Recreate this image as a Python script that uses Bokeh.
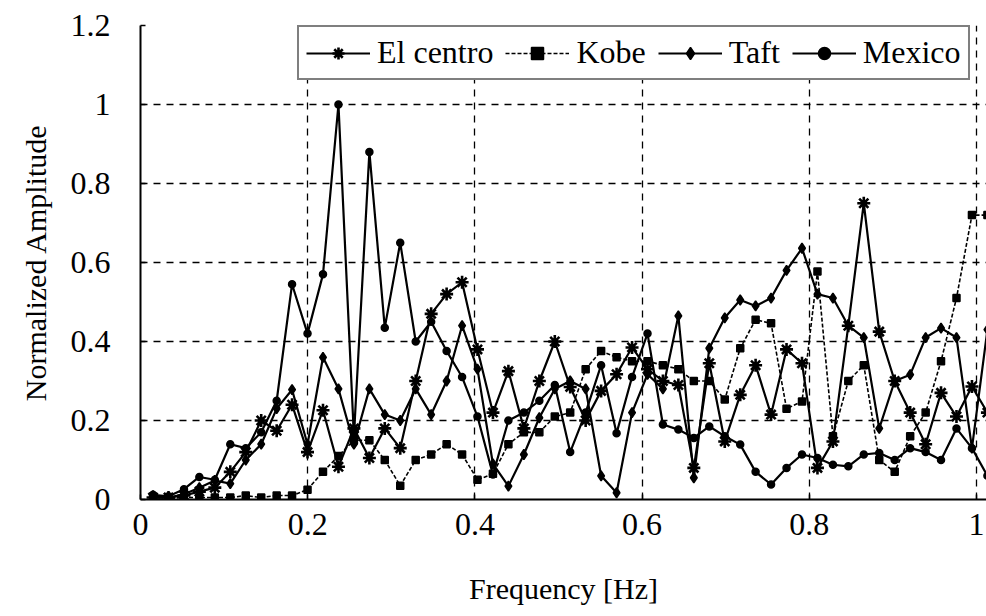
from bokeh.plotting import figure
from bokeh.models import FixedTicker, Legend
from bokeh.embed import file_html
from bokeh.resources import INLINE

# ---- data ----
freq = [0.0150, 0.0335, 0.0520, 0.0704, 0.0889, 0.1074, 0.1259, 0.1444, 0.1629, 0.1813,
        0.1998, 0.2183, 0.2368, 0.2553, 0.2738, 0.2922, 0.3107, 0.3292, 0.3477, 0.3662,
        0.3847, 0.4031, 0.4216, 0.4401, 0.4586, 0.4771, 0.4956, 0.5140, 0.5325, 0.5510,
        0.5695, 0.5880, 0.6065, 0.6249, 0.6434, 0.6619, 0.6804, 0.6989, 0.7174, 0.7358,
        0.7543, 0.7728, 0.7913, 0.8098, 0.8283, 0.8467, 0.8652, 0.8837, 0.9022, 0.9207,
        0.9392, 0.9576, 0.9761, 0.9946, 1.0131]

el_centro = [0.005, 0.005, 0.01, 0.02, 0.03, 0.07, 0.12, 0.20, 0.174, 0.24,
             0.12, 0.226, 0.083, 0.18, 0.105, 0.18, 0.13, 0.30, 0.47, 0.52,
             0.55, 0.38, 0.22, 0.325, 0.18, 0.30, 0.40, 0.285, 0.20, 0.275,
             0.317, 0.385, 0.33, 0.30, 0.29, 0.08, 0.345, 0.147, 0.265, 0.34,
             0.215, 0.38, 0.345, 0.08, 0.147, 0.44, 0.75, 0.425, 0.30, 0.22,
             0.14, 0.27, 0.21, 0.286, 0.22]

kobe = [0.005, 0.003, 0.005, 0.005, 0.005, 0.005, 0.01, 0.005, 0.01, 0.01,
        0.025, 0.07, 0.11, 0.15, 0.15, 0.10, 0.035, 0.10, 0.114, 0.14,
        0.114, 0.05, 0.065, 0.14, 0.17, 0.17, 0.21, 0.22, 0.33, 0.376,
        0.36, 0.35, 0.35, 0.34, 0.33, 0.30, 0.30, 0.253, 0.383, 0.455,
        0.446, 0.23, 0.248, 0.577, 0.16, 0.30, 0.34, 0.10, 0.07, 0.16,
        0.22, 0.35, 0.51, 0.72, 0.72]

taft = [0.01, 0.005, 0.013, 0.03, 0.048, 0.04, 0.10, 0.14, 0.23, 0.278,
        0.14, 0.36, 0.28, 0.14, 0.28, 0.215, 0.20, 0.28, 0.215, 0.30,
        0.44, 0.33, 0.09, 0.034, 0.114, 0.207, 0.28, 0.30, 0.28, 0.06,
        0.017, 0.22, 0.317, 0.28, 0.465, 0.055, 0.383, 0.46, 0.505, 0.49,
        0.51, 0.58, 0.636, 0.52, 0.51, 0.44, 0.41, 0.18, 0.30, 0.316,
        0.41, 0.434, 0.41, 0.13, 0.43]

mexico = [0.012, 0.008, 0.026, 0.057, 0.05, 0.14, 0.13, 0.17, 0.25, 0.545,
          0.42, 0.57, 1.0, 0.16, 0.88, 0.435, 0.65, 0.40, 0.45, 0.376,
          0.31, 0.21, 0.063, 0.20, 0.22, 0.25, 0.29, 0.12, 0.22, 0.34,
          0.168, 0.31, 0.42, 0.19, 0.177, 0.156, 0.185, 0.16, 0.139, 0.07,
          0.038, 0.08, 0.114, 0.105, 0.088, 0.084, 0.114, 0.118, 0.10, 0.13,
          0.12, 0.10, 0.18, 0.13, 0.06]

series_names = ["El centro", "Kobe", "Taft", "Mexico"]
x_ticks = [0, 0.2, 0.4, 0.6, 0.8, 1.0]
x_tick_labels = ["0", "0.2", "0.4", "0.6", "0.8", "1"]
y_ticks = [0, 0.2, 0.4, 0.6, 0.8, 1.0, 1.2]
y_tick_labels = ["0", "0.2", "0.4", "0.6", "0.8", "1", "1.2"]

FONT = "Liberation Serif"

p = figure(width=986, height=612, output_backend="svg", toolbar_location=None,
           x_range=(0, 1.012), y_range=(0, 1.2),
           min_border_left=140, min_border_right=0, min_border_top=25,
           min_border_bottom=113)
p.outline_line_color = None
p.background_fill_color = "white"

styles = [
    dict(y=el_centro, marker="asterisk", size=13, dash="solid", lw=2.2, mlw=2.6),
    dict(y=kobe, marker="square", size=7, dash="4 2", lw=1.6, mlw=1.5),
    dict(y=taft, marker="diamond", size=10, dash="solid", lw=2.2, mlw=1.5),
    dict(y=mexico, marker="circle", size=7, dash="solid", lw=2.2, mlw=1.5),
]

items = []
for name, st in zip(series_names, styles):
    r1 = p.line(freq, st["y"], line_color="black", line_width=st["lw"], line_dash=st["dash"])
    r2 = p.scatter(freq, st["y"], marker=st["marker"], size=st["size"],
                   line_color="black", fill_color="black", line_width=st["mlw"])
    items.append((name, [r1, r2]))

legend = Legend(items=items, orientation="horizontal", location=(157, 419))
legend.label_text_font = FONT
legend.label_text_font_size = "32px"
legend.label_text_color = "black"
legend.glyph_width = 64
legend.glyph_height = 30
legend.label_standoff = 7
legend.spacing = 12
legend.padding = 7
legend.margin = 0
legend.border_line_color = "black"
legend.border_line_width = 2
legend.background_fill_color = "white"
legend.background_fill_alpha = 1.0
p.add_layout(legend, "center")

# axes
for ax in (p.xaxis[0], p.yaxis[0]):
    ax.axis_line_color = "black"
    ax.axis_line_width = 2
    ax.major_tick_in = 5
    ax.major_tick_out = 0
    ax.major_tick_line_width = 1.5
    ax.minor_tick_line_color = None
    ax.major_label_text_font = FONT
    ax.major_label_text_font_size = "32px"
    ax.major_label_text_color = "black"
    ax.axis_label_text_font = FONT
    ax.axis_label_text_font_size = "30px"
    ax.axis_label_text_font_style = "normal"
    ax.axis_label_text_color = "black"

p.xaxis.ticker = FixedTicker(ticks=x_ticks)
p.yaxis.ticker = FixedTicker(ticks=y_ticks)
p.xaxis.major_label_overrides = dict(zip(x_ticks, x_tick_labels))
p.yaxis.major_label_overrides = dict(zip(y_ticks, y_tick_labels))
p.xaxis.axis_label = "Frequency [Hz]"
p.yaxis.axis_label = "Normalized Amplitude"
p.xaxis.major_label_standoff = 14
p.yaxis.major_label_standoff = 30
p.xaxis.axis_label_standoff = 34
p.yaxis.axis_label_standoff = 16

# grid
for g in (p.xgrid[0], p.ygrid[0]):
    g.grid_line_color = "black"
    g.grid_line_width = 1.3
    g.grid_line_dash = "7 6"
p.xgrid.ticker = FixedTicker(ticks=x_ticks)
p.ygrid.ticker = FixedTicker(ticks=y_ticks)

open("out.html", "w").write(file_html(p, INLINE))
